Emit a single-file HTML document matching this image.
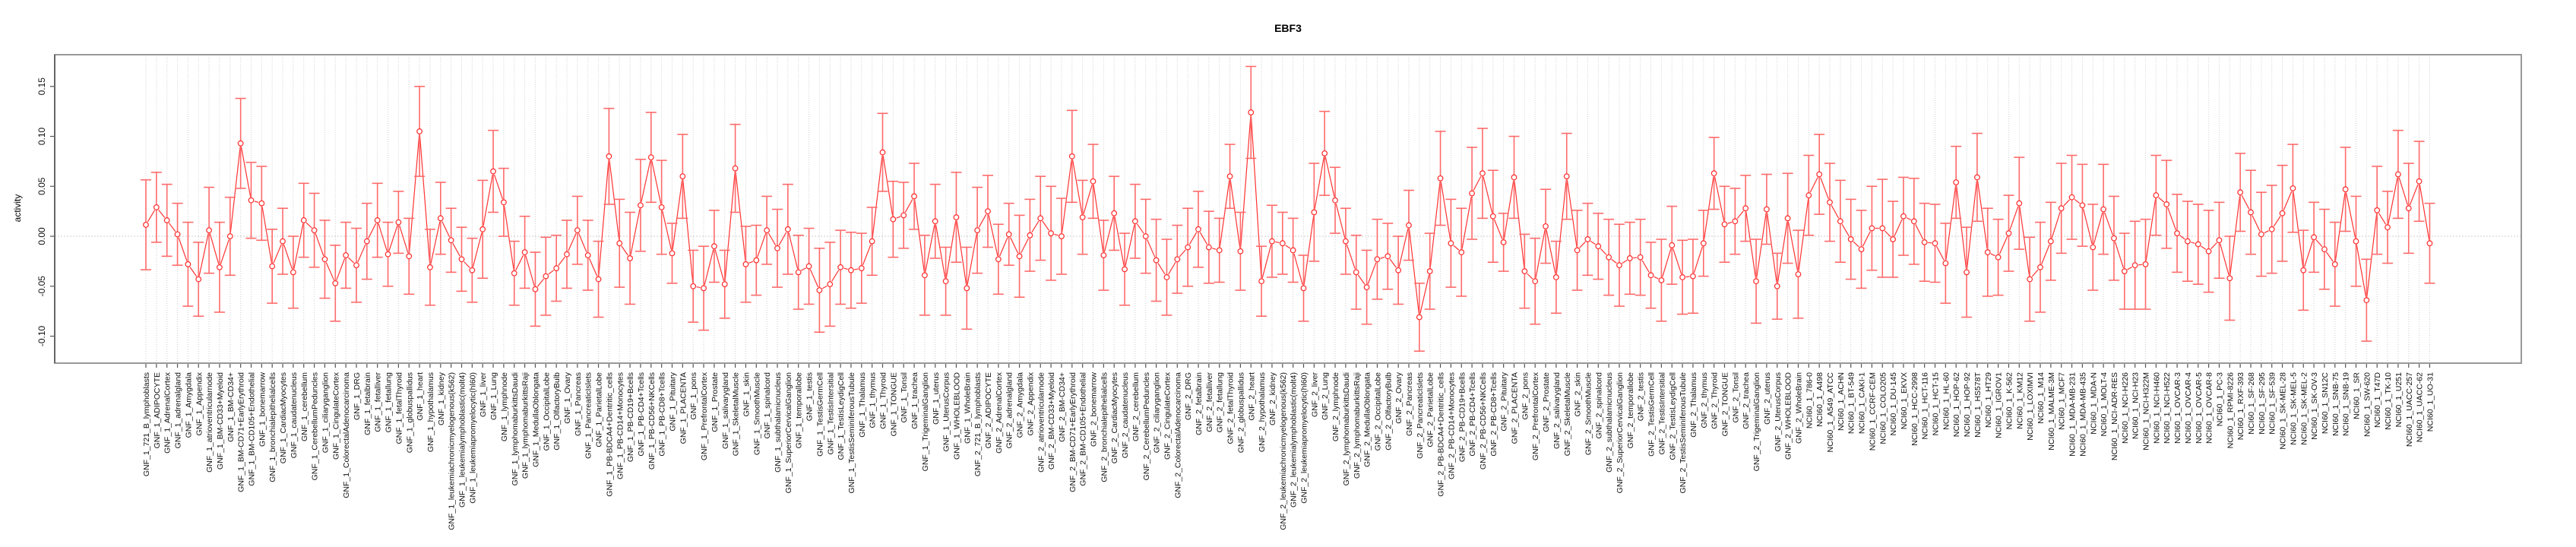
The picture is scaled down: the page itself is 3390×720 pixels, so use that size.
<!DOCTYPE html>
<html><head><meta charset="utf-8"><style>
html,body{margin:0;padding:0;background:#fff;}
svg{display:block;font-family:"Liberation Sans",Arial,sans-serif;}
</style></head><body>
<svg id="chart" width="3390" height="720" viewBox="0 0 3390 720" xmlns="http://www.w3.org/2000/svg">
<text x="1695" y="42" text-anchor="middle" font-size="14" font-weight="bold">EBF3</text>
<text transform="translate(27,274) rotate(-90)" text-anchor="middle" font-size="12">activity</text>
<g id="grid"></g>
<g id="yaxis"></g>
<g id="xaxis"></g>
<g id="series"></g>
<rect x="72" y="72" width="3246" height="406" fill="none" stroke="#999" stroke-width="2"/>
<line x1="72" y1="72" x2="72" y2="478" stroke="#666" stroke-width="2"/>
</svg>
<script>
const gnf=["721_B_lymphoblasts","ADIPOCYTE","AdrenalCortex","adrenalgland","Amygdala","Appendix","atrioventricularnode","BM-CD33+Myeloid","BM-CD34+","BM-CD71+EarlyErythroid","BM-CD105+Endothelial","bonemarrow","bronchialepithelialcells","CardiacMyocytes","caudatenucleus","cerebellum","CerebellumPeduncles","ciliaryganglion","CingulateCortex","ColorectalAdenocarcinoma","DRG","fetalbrain","fetalliver","fetallung","fetalThyroid","globuspallidus","heart","hypothalamus","kidney","leukemiachronicmyelogenous(k562)","leukemialymphoblastic(molt4)","leukemiapromyelocytic(hl60)","liver","Lung","lymphnode","lymphomaburkittsDaudi","lymphomaburkittsRaji","MedullaOblongata","OccipitalLobe","OlfactoryBulb","Ovary","Pancreas","PancreaticIslets","ParietalLobe","PB-BDCA4+Dentritic_cells","PB-CD14+Monocytes","PB-CD19+Bcells","PB-CD4+Tcells","PB-CD56+NKCells","PB-CD8+Tcells","Pituitary","PLACENTA","pons","PrefrontalCortex","Prostate","salivarygland","SkeletalMuscle","skin","SmoothMuscle","spinalcord","subthalamicnucleus","SuperiorCervicalGanglion","temporallobe","testis","TestisGermCell","TestisIntersitial","TestisLeydigCell","TestisSeminiferousTubule","Thalamus","thymus","Thyroid","TONGUE","Tonsil","trachea","TrigeminalGanglion","uterus","UterusCorpus","WHOLEBLOOD","WholeBrain"];
const nci=["786-0","A498","A549_ATCC","ACHN","BT-549","CAKI-1","CCRF-CEM","COLO205","DU-145","EKVX","HCC-2998","HCT-116","HCT-15","HL-60","HOP-62","HOP-92","HS578T","HT29","IGROV1","K-562","KM12","LOXIMVI","M14","MALME-3M","MCF7","MDA-MB-231","MDA-MB-435","MDA-N","MOLT-4","NCI-ADR-RES","NCI-H226","NCI-H23","NCI-H322M","NCI-H460","NCI-H522","OVCAR-3","OVCAR-4","OVCAR-5","OVCAR-8","PC-3","RPMI-8226","RXF-393","SF-268","SF-295","SF-539","SK-MEL-28","SK-MEL-5","SK-MEL-2","SK-OV-3","SN12C","SNB-75","SNB-19","SR","SW-620","T47D","TK-10","U251","UACC-257","UACC-62","UO-31"];
const categories=[].concat(gnf.map(s=>"GNF_1_"+s),gnf.map(s=>"GNF_2_"+s),nci.map(s=>"NCI60_1_"+s));
const means=[0.0115,0.029,0.016,0.002,-0.028,-0.043,0.006,-0.031,0.0,0.093,0.036,0.033,-0.030,-0.005,-0.036,0.016,0.006,-0.023,-0.047,-0.019,-0.029,-0.005,0.016,-0.018,0.014,-0.020,0.105,-0.031,0.018,-0.004,-0.023,-0.034,0.007,0.065,0.034,-0.037,-0.016,-0.053,-0.040,-0.032,-0.018,0.006,-0.019,-0.043,0.080,-0.007,-0.022,0.031,0.079,0.029,-0.017,0.060,-0.050,-0.052,-0.010,-0.048,0.068,-0.028,-0.024,0.006,-0.012,0.007,-0.036,-0.030,-0.054,-0.048,-0.031,-0.034,-0.032,-0.005,0.084,0.017,0.021,0.040,-0.039,0.015,-0.045,0.019,-0.052,0.006,0.025,-0.023,0.002,-0.020,0.001,0.018,0.003,0.0,0.080,0.019,0.055,-0.019,0.023,-0.033,0.015,0.0,-0.024,-0.041,-0.023,-0.011,0.007,-0.011,-0.014,0.060,-0.015,0.124,-0.045,-0.005,-0.007,-0.014,-0.052,0.024,0.083,0.036,-0.005,-0.036,-0.051,-0.023,-0.020,-0.034,0.011,-0.081,-0.035,0.058,-0.007,-0.016,0.043,0.063,0.020,-0.006,0.059,-0.035,-0.045,0.010,-0.041,0.060,-0.014,-0.003,-0.010,-0.021,-0.029,-0.022,-0.021,-0.039,-0.044,-0.009,-0.041,-0.040,-0.007,0.063,0.012,0.015,0.028,-0.045,0.027,-0.050,0.018,-0.038,0.041,0.062,0.034,0.015,-0.003,-0.013,0.008,0.008,-0.003,0.020,0.015,-0.006,-0.007,-0.027,0.054,-0.036,0.059,-0.016,-0.021,0.003,0.033,-0.043,-0.031,-0.005,0.028,0.039,0.031,-0.011,0.027,-0.002,-0.035,-0.029,-0.028,0.041,0.032,0.003,-0.005,-0.008,-0.015,-0.004,-0.042,0.044,0.024,0.002,0.007,0.023,0.048,-0.034,-0.001,-0.013,-0.028,0.047,-0.005,-0.064,0.026,0.009,0.062,0.028,0.055,-0.007];
const errors=[0.045,0.035,0.036,0.031,0.042,0.037,0.043,0.045,0.039,0.045,0.038,0.037,0.037,0.033,0.036,0.037,0.037,0.039,0.038,0.033,0.037,0.038,0.037,0.032,0.031,0.038,0.045,0.038,0.036,0.032,0.032,0.032,0.049,0.041,0.034,0.032,0.036,0.037,0.039,0.033,0.034,0.034,0.035,0.038,0.048,0.044,0.046,0.046,0.045,0.047,0.030,0.042,0.036,0.042,0.036,0.034,0.044,0.038,0.035,0.034,0.039,0.045,0.037,0.038,0.042,0.042,0.037,0.038,0.035,0.034,0.039,0.038,0.033,0.033,0.040,0.037,0.034,0.045,0.041,0.043,0.036,0.035,0.031,0.041,0.036,0.042,0.047,0.038,0.046,0.037,0.037,0.035,0.037,0.036,0.037,0.037,0.041,0.038,0.034,0.039,0.038,0.036,0.032,0.032,0.039,0.046,0.035,0.036,0.031,0.032,0.033,0.049,0.042,0.033,0.033,0.037,0.037,0.040,0.033,0.034,0.035,0.034,0.038,0.047,0.044,0.044,0.046,0.045,0.046,0.029,0.041,0.037,0.043,0.037,0.036,0.043,0.040,0.036,0.033,0.038,0.041,0.036,0.038,0.033,0.041,0.039,0.037,0.037,0.033,0.036,0.038,0.033,0.033,0.042,0.035,0.033,0.045,0.044,0.040,0.040,0.039,0.041,0.040,0.039,0.042,0.049,0.038,0.039,0.043,0.039,0.039,0.040,0.036,0.045,0.044,0.044,0.038,0.038,0.046,0.042,0.045,0.039,0.045,0.042,0.041,0.043,0.045,0.042,0.038,0.044,0.045,0.040,0.044,0.039,0.040,0.040,0.041,0.038,0.042,0.039,0.042,0.042,0.044,0.048,0.044,0.040,0.035,0.040,0.042,0.042,0.045,0.041,0.044,0.036,0.044,0.045,0.040,0.040];
const yTicks=[-0.10,-0.05,0.00,0.05,0.10,0.15];
const yTickLabels=["-0.10","-0.05","0.00","0.05","0.10","0.15"];

const NS="http://www.w3.org/2000/svg";
const X0=192, DX=13.85, Y0=311, YS=1315;
function xPos(i){return X0+i*DX;}
function yPos(v){return Y0-v*YS;}
function mk(tag,attrs,parent){const e=document.createElementNS(NS,tag);for(const k in attrs)e.setAttribute(k,attrs[k]);parent.appendChild(e);return e;}
const grid=document.getElementById('grid'),yax=document.getElementById('yaxis'),xax=document.getElementById('xaxis'),ser=document.getElementById('series');

categories.forEach((c,i)=>{
  const x=xPos(i);
  const g=mk('line',{x1:x,y1:72,x2:x,y2:478,stroke:'#cfcfcf','stroke-width':1,'stroke-dasharray':'1,2'},grid);
  
  
  const t=mk('line',{x1:x,y1:478,x2:x,y2:484,stroke:'#555','stroke-width':1.2},xax);
  
  
  const lb=mk('text',{transform:'translate('+(x+4)+',490) rotate(-90)','text-anchor':'end','font-size':'10.5',fill:'#111'},xax);
  lb.textContent=c;
  
  
});
const zl=mk('line',{x1:72,y1:yPos(0),x2:3318,y2:yPos(0),stroke:'#cfcfcf','stroke-width':1,'stroke-dasharray':'2,2'},grid);



yTicks.forEach((v,i)=>{
  const y=yPos(v);
  const t=mk('line',{x1:66,y1:y,x2:72,y2:y,stroke:'#555','stroke-width':1.2},yax);
  
  
  const lb=mk('text',{transform:'translate(59,'+y+') rotate(-90)','text-anchor':'middle','font-size':'12',fill:'#111'},yax);
  lb.textContent=yTickLabels[i];
  
  
});

// connecting line segments with gaps around points
for(let i=0;i<means.length-1;i++){
  const x1=xPos(i),y1=yPos(means[i]),x2=xPos(i+1),y2=yPos(means[i+1]);
  const dx=x2-x1,dy=y2-y1,L=Math.hypot(dx,dy),g=4.5;
  if(L<=2*g)continue;
  const s=mk('line',{x1:x1+dx*g/L,y1:y1+dy*g/L,x2:x2-dx*g/L,y2:y2-dy*g/L,stroke:'#ff3333','stroke-width':1.2},ser);
  
  
}
means.forEach((m,i)=>{
  const x=xPos(i),yt=yPos(m+errors[i]),yb=yPos(m-errors[i]);
  const eb=mk('g',{stroke:'#ff6b6b','stroke-width':1.6},ser);
  
  
  mk('line',{x1:x,y1:yt,x2:x,y2:yb},eb);
  mk('line',{x1:x-7,y1:yt,x2:x+7,y2:yt},eb);
  mk('line',{x1:x-7,y1:yb,x2:x+7,y2:yb},eb);
  const p=mk('circle',{cx:x,cy:yPos(m),r:3.3,fill:'#fff',stroke:'#ff2a2a','stroke-width':1.2},ser);
  
  
});
</script>
</body></html>
